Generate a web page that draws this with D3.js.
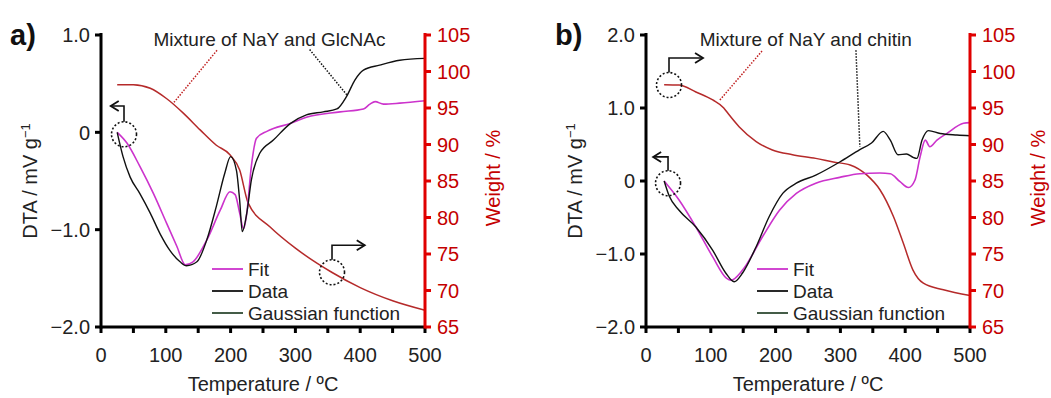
<!DOCTYPE html>
<html>
<head>
<meta charset="utf-8">
<script src="https://cdn.jsdelivr.net/npm/d3@7"></script>
<style>
  body { margin: 0; background: #fff; }
  svg { display: block; font-family: Arial, "Liberation Sans", sans-serif; }
</style>
</head>
<body>
<div id="chart"></div>
<script>
// data: [temperature, value]
var aWeight = [[25,98.2],[50,98.2],[76,97.7],[101,96.3],[127,94.3],[153,92.0],[178,89.9],[199,88.6],[214,86.5],[227,82.0],[261,78.7],[300,75.8],[356,72.5],[400,70.4],[450,68.6],[500,67.3]];
var aData = [[25,0],[34,-0.25],[45,-0.46],[60,-0.63],[76,-0.83],[91,-1.04],[106,-1.21],[122,-1.33],[132,-1.37],[148,-1.33],[163,-1.11],[178,-0.76],[191,-0.42],[200,-0.25],[209,-0.39],[214,-0.70],[218,-1.02],[225,-0.83],[232,-0.49],[245,-0.215],[266,-0.08],[292,0.09],[317,0.18],[343,0.21],[364,0.24],[379,0.37],[392,0.54],[405,0.64],[430,0.69],[461,0.74],[500,0.76]];
var aFit = [[25,0],[40,-0.11],[60,-0.35],[81,-0.63],[101,-0.93],[117,-1.17],[130,-1.36],[142,-1.33],[163,-1.11],[184,-0.80],[199,-0.61],[207,-0.64],[214,-0.83],[220,-0.99],[225,-0.83],[232,-0.35],[240,-0.06],[256,0.01],[266,0.04],[292,0.09],[317,0.155],[369,0.21],[405,0.24],[415,0.29],[423,0.315],[436,0.29],[461,0.30],[500,0.325]];

var bWeight = [[28,98.2],[51,98.15],[77,97.2],[103,96.1],[120,95.0],[127,94.2],[144,92.4],[170,90.4],[195,89.25],[226,88.6],[262,88.1],[289,87.6],[315,87.2],[341,85.8],[361,83.8],[382,80.1],[397,76.5],[412,72.8],[428,71.0],[459,70.1],[500,69.3]];
var bData = [[28,0],[36,-0.21],[51,-0.40],[77,-0.63],[103,-0.95],[123,-1.26],[136,-1.38],[149,-1.26],[170,-0.90],[190,-0.49],[211,-0.17],[232,-0.03],[262,0.08],[299,0.26],[330,0.43],[348,0.52],[366,0.68],[377,0.56],[389,0.36],[402,0.37],[413,0.32],[418,0.31],[426,0.56],[436,0.69],[454,0.65],[480,0.63],[500,0.62]];
var bFit = [[28,0],[51,-0.26],[77,-0.63],[103,-1.04],[124,-1.33],[131,-1.36],[149,-1.22],[180,-0.76],[206,-0.40],[232,-0.17],[262,-0.03],[299,0.05],[330,0.10],[361,0.11],[377,0.10],[392,-0.01],[405,-0.09],[415,0.01],[423,0.33],[431,0.56],[438,0.47],[449,0.56],[464,0.65],[490,0.79],[500,0.80]];

var xTicks = [0, 100, 200, 300, 400, 500];
var xMinor = [0, 50, 100, 150, 200, 250, 300, 350, 400, 450, 500];
var weightTicks = [65, 70, 75, 80, 85, 90, 95, 100, 105];
var aDtaTicks = [1, 0, -1, -2];
var aDtaLabels = ["1.0", "0", "\u22121.0", "\u22122.0"];
var bDtaTicks = [2, 1, 0, -1, -2];
var bDtaLabels = ["2.0", "1.0", "0", "\u22121.0", "\u22122.0"];
var legendNames = ["Fit", "Data", "Gaussian function"];

var svgWidth = 1051;
var svgHeight = 398;
var plotTop = 35, plotBottom = 327, plotWidth = 324;

var magenta = "#cc33cc";
var dark = "#111111";
var green = "#2f4a33";
var redCurve = "#b52a2a";
var redAxis = "#e00000";
var redText = "#c40000";

var svg = d3.select("#chart")
    .append("svg")
    .attr("width", svgWidth)
    .attr("height", svgHeight);

var panels = [
    {left: 101, tag: "a)", dtaDomain: [-2, 1], ticks: aDtaTicks, labels: aDtaLabels,
     weight: aWeight, data: aData, fit: aFit, title: "Mixture of NaY and GlcNAc",
     textAt: [81, 0.885],
     redDot: [[179, 102.9], [111, 95.6]], blackDot: [[322, 0.85], [380, 0.38]],
     dtaMark: {c: [35.5, -0.02], turn: 0.27, end: 15}, wMark: {c: [356.5, 72.5], turn: 76.2, end: 407}},
    {left: 646, tag: "b)", dtaDomain: [-2, 2], ticks: bDtaTicks, labels: bDtaLabels,
     weight: bWeight, data: bData, fit: bFit, title: "Mixture of NaY and chitin",
     textAt: [83, 1.85],
     redDot: [[179, 102.8], [114, 96.1]], blackDot: [[324, 1.79], [330, 0.47]],
     dtaMark: {c: [34, -0.03], turn: 0.33, end: 11}, wMark: {c: [35.5, 98.15], turn: 101.85, end: 88}}
];

panels.forEach(function(p) {
    var x = d3.scaleLinear().domain([0, 500]).range([p.left, p.left + plotWidth]);
    var y = d3.scaleLinear().domain(p.dtaDomain).range([plotBottom, plotTop]);
    var yw = d3.scaleLinear().domain([65, 105]).range([plotBottom, plotTop]);
    var right = p.left + plotWidth;

    var g = svg.append("g");

    // curves
    var lineDta = d3.line().x(d => x(d[0])).y(d => y(d[1])).curve(d3.curveMonotoneX);
    var lineW = d3.line().x(d => x(d[0])).y(d => yw(d[1])).curve(d3.curveMonotoneX);

    g.append("path").datum(p.weight).attr("d", lineW)
        .attr("fill", "none").attr("stroke", redCurve).attr("stroke-width", 1.5);
    g.append("path").datum(p.fit).attr("d", lineDta)
        .attr("fill", "none").attr("stroke", magenta).attr("stroke-width", 1.6);
    g.append("path").datum(p.data).attr("d", lineDta)
        .attr("fill", "none").attr("stroke", dark).attr("stroke-width", 1.4);

    // left axis
    g.append("line").attr("x1", p.left).attr("x2", p.left)
        .attr("y1", plotTop - 2).attr("y2", plotBottom + 1.5)
        .attr("stroke", "#000").attr("stroke-width", 3);
    p.ticks.forEach(function(t, i) {
        g.append("line").attr("x1", p.left - 6).attr("x2", p.left)
            .attr("y1", y(t)).attr("y2", y(t))
            .attr("stroke", "#000").attr("stroke-width", 3);
        g.append("text").attr("x", p.left - 11).attr("y", y(t))
            .attr("dy", "0.36em").attr("text-anchor", "end")
            .attr("font-size", 20).attr("fill", "#222").text(p.labels[i]);
    });

    // bottom axis
    g.append("line").attr("x1", p.left).attr("x2", right)
        .attr("y1", plotBottom).attr("y2", plotBottom)
        .attr("stroke", "#000").attr("stroke-width", 3);
    xMinor.forEach(function(t) {
        g.append("line").attr("x1", x(t)).attr("x2", x(t))
            .attr("y1", plotBottom).attr("y2", plotBottom + 6)
            .attr("stroke", "#000").attr("stroke-width", 3);
    });
    xTicks.forEach(function(t) {
        g.append("text").attr("x", x(t)).attr("y", 362)
            .attr("text-anchor", "middle").attr("font-size", 20)
            .attr("fill", "#222").text(t);
    });

    // right axis
    g.append("line").attr("x1", right).attr("x2", right)
        .attr("y1", plotTop - 2).attr("y2", plotBottom + 1.5)
        .attr("stroke", redAxis).attr("stroke-width", 3);
    weightTicks.forEach(function(t) {
        g.append("line").attr("x1", right).attr("x2", right + 6)
            .attr("y1", yw(t)).attr("y2", yw(t))
            .attr("stroke", redAxis).attr("stroke-width", 3);
        g.append("text").attr("x", right + 12).attr("y", yw(t))
            .attr("dy", "0.36em").attr("font-size", 20)
            .attr("fill", redText).text(t);
    });

    // axis titles
    g.append("text").attr("transform", `translate(${p.left - 64}, 181) rotate(-90)`)
        .attr("text-anchor", "middle").attr("font-size", 20).attr("fill", "#222")
        .html("DTA / mV g<tspan dy='-7' font-size='13'>\u22121</tspan>");
    g.append("text").attr("transform", `translate(${right + 75}, 178) rotate(-90)`)
        .attr("text-anchor", "middle").attr("font-size", 20).attr("fill", redText)
        .text("Weight / %");
    g.append("text").attr("x", p.left + plotWidth / 2).attr("y", 391)
        .attr("text-anchor", "middle").attr("font-size", 20).attr("fill", "#222")
        .text("Temperature / \u00baC");

    // panel tag
    g.append("text").attr("x", p.left - 91).attr("y", 45)
        .attr("font-size", 29).attr("font-weight", "bold").attr("fill", "#111")
        .text(p.tag);

    // annotation
    g.append("text").attr("x", x(p.textAt[0])).attr("y", y(p.textAt[1]))
        .attr("font-size", 19).attr("fill", "#222").text(p.title);
    g.append("line")
        .attr("x1", x(p.redDot[0][0])).attr("y1", yw(p.redDot[0][1]))
        .attr("x2", x(p.redDot[1][0])).attr("y2", yw(p.redDot[1][1]))
        .attr("stroke", "#c02020").attr("stroke-width", 1.5).attr("stroke-dasharray", "1.5,1.5");
    g.append("line")
        .attr("x1", x(p.blackDot[0][0])).attr("y1", y(p.blackDot[0][1]))
        .attr("x2", x(p.blackDot[1][0])).attr("y2", y(p.blackDot[1][1]))
        .attr("stroke", "#111").attr("stroke-width", 1.5).attr("stroke-dasharray", "1.5,1.5");

    // dotted circles with bent arrows
    function marker(cx, cy, turnY, endX) {
        var r = 12.5;
        g.append("circle").attr("cx", cx).attr("cy", cy).attr("r", r)
            .attr("fill", "none").attr("stroke", "#111").attr("stroke-width", 1.6)
            .attr("stroke-dasharray", "2,2");
        g.append("path").attr("d", `M${cx},${cy - r}V${turnY}H${endX}`)
            .attr("fill", "none").attr("stroke", "#111").attr("stroke-width", 1.6);
        var dir = endX > cx ? 1 : -1;
        g.append("path")
            .attr("d", `M${endX - dir * 8},${turnY - 5}L${endX},${turnY}L${endX - dir * 8},${turnY + 5}`)
            .attr("fill", "none").attr("stroke", "#111").attr("stroke-width", 1.8);
    }
    marker(x(p.dtaMark.c[0]), y(p.dtaMark.c[1]), y(p.dtaMark.turn), x(p.dtaMark.end));
    marker(x(p.wMark.c[0]), yw(p.wMark.c[1]), yw(p.wMark.turn), x(p.wMark.end));

    // legend
    var legColors = [magenta, dark, green];
    legendNames.forEach(function(name, i) {
        var ly = 269 + i * 22;
        g.append("line").attr("x1", p.left + 111).attr("x2", p.left + 142)
            .attr("y1", ly).attr("y2", ly)
            .attr("stroke", legColors[i]).attr("stroke-width", 1.8);
        g.append("text").attr("x", p.left + 147).attr("y", ly)
            .attr("dy", "0.36em").attr("font-size", 19).attr("fill", "#222")
            .text(name);
    });
});
</script>
</body>
</html>
